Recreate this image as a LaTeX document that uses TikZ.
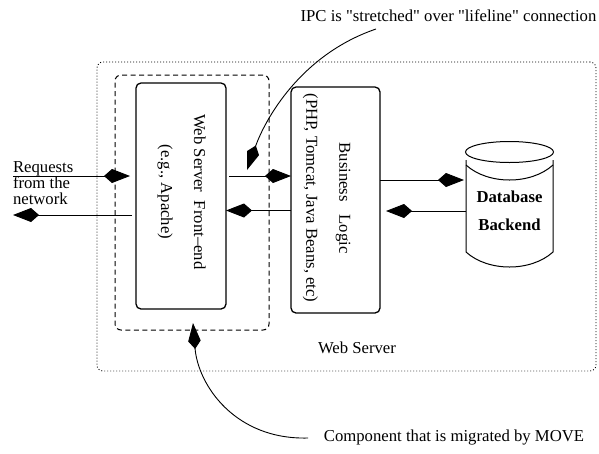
\documentclass[tikz,border=0pt]{standalone}
\usepackage{fontspec}
\setmainfont{Liberation Serif}
\usetikzlibrary{arrows.meta,calc}
\begin{document}
\begin{tikzpicture}[x=1pt,y=-1pt,
  every node/.style={font=\fontsize{16.7}{20}\selectfont, inner sep=0pt, outer sep=0pt},
  box/.style={draw, line width=1.3pt, rounded corners=5pt},
  conn/.style={line width=0.9pt},
  tipk/.style={-{Kite[length=26pt,width=14pt,inset=8pt]}},
  curvek/.style={-{Kite[length=26pt,width=12.5pt,inset=8pt]}},
  dottedbox/.style={draw, line width=0.9pt, dash pattern=on 0.9pt off 2.1pt, rounded corners=6pt},
  dashedbox/.style={draw, line width=1pt, dash pattern=on 5pt off 3.5pt, rounded corners=6pt},
  cyl/.style={line width=1pt}
]
\useasboundingbox (0,0) rectangle (599,453);

% outer dotted web server box
\node[dottedbox, minimum width=499pt, minimum height=309pt] (srv) at (346.5,216.5) {};
\node (srvlabel) at (357,347.5) {Web Server};

% dashed migrated component
\node[dashedbox, minimum width=154pt, minimum height=255pt] (mig) at (192,202.5) {};

% front end box
\node[box, minimum width=90pt, minimum height=226pt] (ws) at (181,196) {};
\node[rotate=-90, align=center, font=\fontsize{16.7}{33}\selectfont] (wstext) at (181.5,192)
  {Web Server\ \ Front–end\\(e.g., Apache)};

% business logic box
\node[box, minimum width=89pt, minimum height=226pt] (bl) at (335.5,200) {};
\node[rotate=-90, align=center, font=\fontsize{16.7}{33}\selectfont] (bltext) at (326.5,198)
  {Business\ \ \ Logic\\(PHP, Tomcat, Java Beans, etc)};

% database cylinder
\node[minimum width=87pt, minimum height=115pt] (db) at (509.5,209.5) {};
\draw[cyl] (509.5,152) ellipse [x radius=44, y radius=10.5];
\draw[cyl] (466,160) -- (466,252) .. controls (488,272) and (531,272) .. (553,252) -- (553,160);
\draw[cyl] (466,165) .. controls (488,185) and (531,185) .. (553,165);
\node[font=\fontsize{16.7}{28}\selectfont\bfseries, align=center] (dbt) at (509.5,210.3) {Database\\Backend};

% requests text
\node[align=left, anchor=west, font=\fontsize{16.7}{15.2}\selectfont] (req) at (13,183) {Requests\\from the\\network};

% connector levels
\coordinate (ya) at (0,176);
\coordinate (yb) at (0,215);
\coordinate (yc) at (0,210.5);
\coordinate (yd) at (0,180);
\coordinate (ye) at (0,211);

\draw[conn,tipk] (req.west |- ya) -- ($(ws.west |- ya)+(-6,0)$);
\draw[conn,tipk] ($(ws.west |- yb)+(-4,0)$) -- (req.west |- yb);
\draw[conn,tipk] ($(ws.east |- ya)+(3,0)$) -- (bl.west |- ya);
\draw[conn,tipk] (bl.west |- yc) -- (ws.east |- yc);
\draw[conn,tipk] (bl.east |- yd) -- ($(db.west |- yd)+(-2,0)$);
\draw[conn,tipk] (db.west |- ye) -- ($(bl.east |- ye)+(6,0)$);

% annotations
\node (ipc) at (448.5,16) {IPC is \textquotedbl stretched\textquotedbl{} over \textquotedbl lifeline\textquotedbl{} connection};
\node (comp) at (454,437) {Component that is migrated by MOVE};
\coordinate (ipcstart) at (376,29);
\coordinate (ipctip) at (247,170);
\coordinate (compstart) at (308,438);
\coordinate (comptip) at (193,323);
\draw[conn,curvek] (ipcstart) .. controls (300,55) and (265,120) .. (ipctip);
\draw[conn,curvek] (compstart) .. controls (235,440) and (198,385) .. (comptip);
\end{tikzpicture}
\end{document}
